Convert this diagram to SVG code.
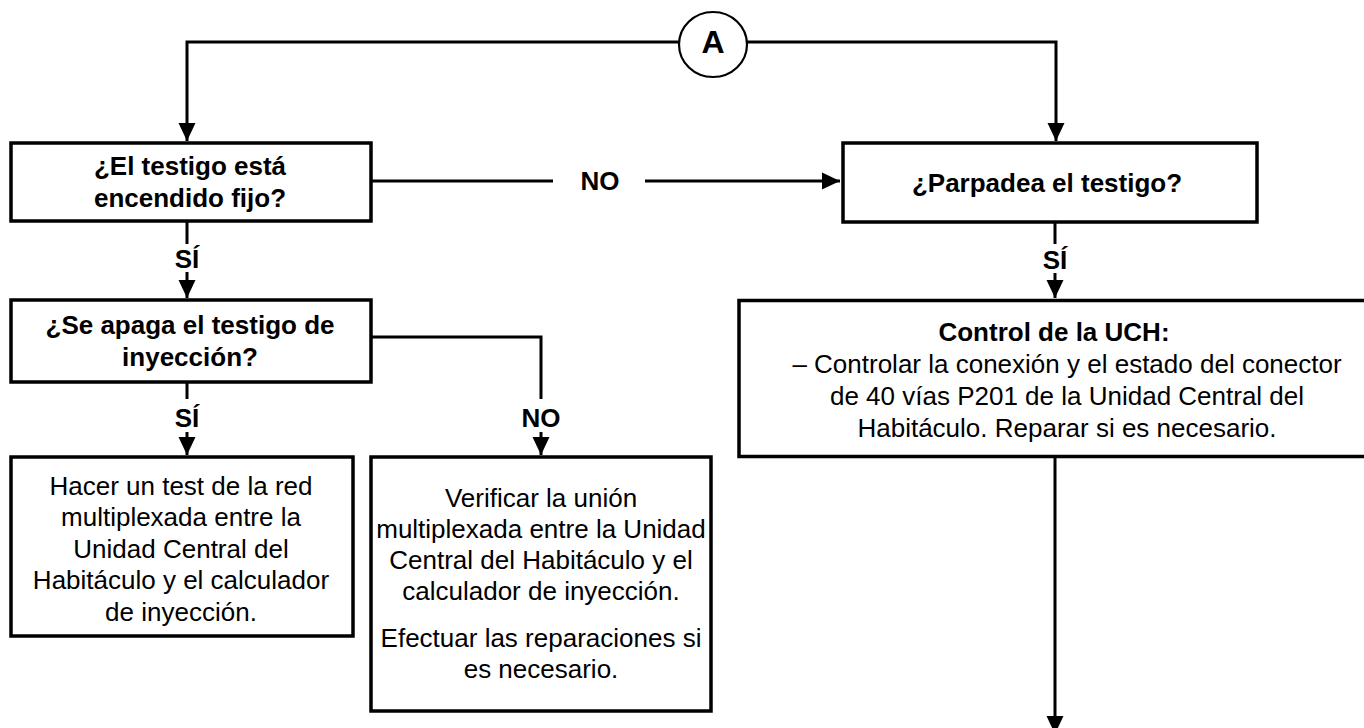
<svg xmlns="http://www.w3.org/2000/svg" width="1364" height="728" viewBox="0 0 1364 728">
<style>
  .box { fill: #fff; stroke: #000; stroke-width: 3.5; }
  .ln { fill: none; stroke: #000; stroke-width: 3; }
  .b { font-family: "Liberation Sans", Arial, sans-serif; font-weight: bold; font-size: 26px; text-anchor: middle; fill: #000; }
  .r { font-family: "Liberation Sans", Arial, sans-serif; font-size: 26px; text-anchor: middle; fill: #000; }
</style>
<defs>
  <marker id="arr" markerUnits="userSpaceOnUse" markerWidth="20" markerHeight="20" viewBox="0 0 20 20" refX="19" refY="10" orient="auto">
    <path d="M1,1.5 L19,10 L1,18.5 Z" fill="#000"/>
  </marker>
</defs>
<rect width="1364" height="728" fill="#fff"/>

<g id="connectors">
  <polyline class="ln" points="679,42 187,42 187,141" marker-end="url(#arr)"/>
  <polyline class="ln" points="747,42 1056,42 1056,141" marker-end="url(#arr)"/>
  <line class="ln" x1="371" y1="181" x2="553" y2="181"/>
  <line class="ln" x1="645" y1="181" x2="840" y2="181" marker-end="url(#arr)"/>
  <line class="ln" x1="187" y1="221" x2="187" y2="244"/>
  <line class="ln" x1="187" y1="272" x2="187" y2="298" marker-end="url(#arr)"/>
  <line class="ln" x1="1055" y1="222" x2="1055" y2="244"/>
  <line class="ln" x1="1055" y1="273" x2="1055" y2="298" marker-end="url(#arr)"/>
  <line class="ln" x1="187" y1="382" x2="187" y2="399"/>
  <line class="ln" x1="187" y1="432" x2="187" y2="455" marker-end="url(#arr)"/>
  <polyline class="ln" points="371,337 541,337 541,399"/>
  <line class="ln" x1="541" y1="432" x2="541" y2="455" marker-end="url(#arr)"/>
  <line class="ln" x1="1055" y1="457" x2="1055" y2="734" marker-end="url(#arr)"/>
  <text class="b" x="600" y="190">NO</text>
  <text class="b" x="187" y="268">SÍ</text>
  <text class="b" x="1055" y="269">SÍ</text>
  <text class="b" x="187" y="427">SÍ</text>
  <text class="b" x="541" y="427">NO</text>
</g>

<g id="connectorA">
  <ellipse cx="713" cy="44.5" rx="34" ry="32.5" fill="#fff" stroke="#000" stroke-width="2.2"/>
  <text class="b" x="713" y="53" style="font-size:32px">A</text>
</g>

<g id="n1">
  <rect class="box" x="11" y="143" width="360" height="78"/>
  <text class="b" x="190" y="175">¿El testigo está</text>
  <text class="b" x="190" y="207">encendido fijo?</text>
</g>

<g id="n2">
  <rect class="box" x="843" y="143" width="414" height="79"/>
  <text class="b" x="1047" y="192">¿Parpadea el testigo?</text>
</g>

<g id="n3">
  <rect class="box" x="11" y="300" width="360" height="82"/>
  <text class="b" x="190" y="334">¿Se apaga el testigo de</text>
  <text class="b" x="190" y="366">inyección?</text>
</g>

<g id="n4">
  <rect class="box" x="11" y="457" width="342" height="179"/>
  <text class="r" x="181" y="494.5">Hacer un test de la red</text>
  <text class="r" x="181" y="526">multiplexada entre la</text>
  <text class="r" x="181" y="557.5">Unidad Central del</text>
  <text class="r" x="181" y="589">Habitáculo y el calculador</text>
  <text class="r" x="181" y="620.5">de inyección.</text>
</g>

<g id="n5">
  <rect class="box" x="371" y="457" width="340" height="254"/>
  <text class="r" x="541" y="506.5">Verificar la unión</text>
  <text class="r" x="541" y="537.5">multiplexada entre la Unidad</text>
  <text class="r" x="541" y="568.5">Central del Habitáculo y el</text>
  <text class="r" x="541" y="600">calculador de inyección.</text>
  <text class="r" x="541" y="647">Efectuar las reparaciones si</text>
  <text class="r" x="541" y="678">es necesario.</text>
</g>

<g id="n6">
  <rect class="box" x="739" y="300.5" width="640" height="156"/>
  <text class="b" x="1054" y="341">Control de la UCH:</text>
  <text class="r" x="1067" y="373">– Controlar la conexión y el estado del conector</text>
  <text class="r" x="1067" y="405">de 40 vías P201 de la Unidad Central del</text>
  <text class="r" x="1067" y="437">Habitáculo. Reparar si es necesario.</text>
</g>
</svg>
